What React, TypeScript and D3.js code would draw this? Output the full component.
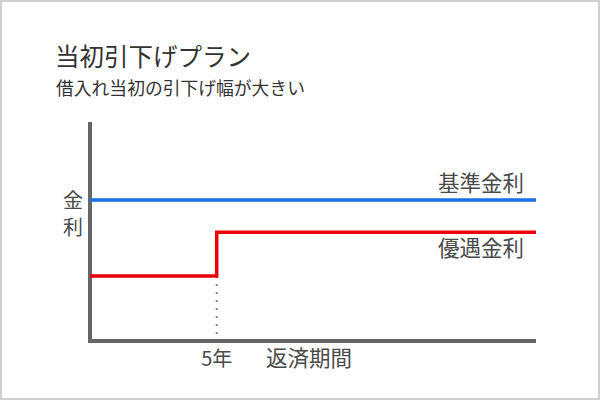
import React from "react";
import * as d3 from "d3";

const title = "当初引下げプラン";
const subtitle = "借入れ当初の引下げ幅が大きい";
const yAxisLabel = ["金", "利"];
const xTickLabel = "5年";
const xAxisLabel = "返済期間";
const seriesNames = ["基準金利", "優遇金利"];

// years of the repayment period (breakpoints)
const periods = [0, 5, 17.6];
// base rate (constant) and preferential rate (stepped)
const baseRate = [1.93, 1.93];
const preferentialRate = [0.89, 1.49];
const stepYear = 5;

const W = 600;
const H = 400;

export default function App() {
  const x = d3.scaleLinear().domain([0, 17.6]).range([90, 536]);
  const y = d3.scaleLinear().domain([0, 3]).range([341, 122]);

  const line = d3
    .line<[number, number]>()
    .x((d) => x(d[0]))
    .y((d) => y(d[1]))
    .curve(d3.curveStepAfter);

  const basePts: [number, number][] = [
    [periods[0], baseRate[0]],
    [periods[1], baseRate[1]],
    [periods[2], baseRate[1]],
  ];
  const prefPts: [number, number][] = [
    [periods[0], preferentialRate[0]],
    [periods[1], preferentialRate[1]],
    [periods[2], preferentialRate[1]],
  ];

  const font = "'Noto Sans CJK JP', 'Noto Sans', sans-serif";
  const textColor = "#4a4a4a";

  return (
    <svg
      width={W}
      height={H}
      style={{ position: "fixed", left: 0, top: 0, background: "#fff" }}
      fontFamily={font}
    >
      <rect x={1} y={1} width={W - 2} height={H - 2} fill="#fff" stroke="#cfcfcf" strokeWidth={2} />

      <text x={55} y={66} fontSize={24.5} fill="#333">
        {title}
      </text>
      <text x={56} y={95} fontSize={17.8} fill="#333">
        {subtitle}
      </text>

      {/* dotted guide at step */}
      <line
        x1={x(stepYear)}
        x2={x(stepYear)}
        y1={y(preferentialRate[0])}
        y2={y(0)}
        stroke="#888"
        strokeWidth={2}
        strokeDasharray="2,6"
      />

      {/* axes */}
      <line x1={x(0)} x2={x(0)} y1={y(3)} y2={y(0)} stroke="#666" strokeWidth={4} />
      <line x1={x(0) - 2} x2={x(17.6)} y1={y(0)} y2={y(0)} stroke="#666" strokeWidth={4} />

      <path d={line(basePts) || ""} fill="none" stroke="#1a6fe6" strokeWidth={3.5} />
      <path d={line(prefPts) || ""} fill="none" stroke="#e8000b" strokeWidth={3.5} />

      {yAxisLabel.map((c, i) => (
        <text key={c} x={73} y={208 + i * 27} fontSize={20} fill={textColor} textAnchor="middle">
          {c}
        </text>
      ))}

      <text x={524} y={191} fontSize={21.5} fill={textColor} textAnchor="end">
        {seriesNames[0]}
      </text>
      <text x={524} y={256} fontSize={21.5} fill={textColor} textAnchor="end">
        {seriesNames[1]}
      </text>

      <text x={x(stepYear)} y={366} fontSize={20} fill={textColor} textAnchor="middle">
        {xTickLabel}
      </text>
      <text x={266} y={366} fontSize={21.5} fill={textColor}>
        {xAxisLabel}
      </text>
    </svg>
  );
}
